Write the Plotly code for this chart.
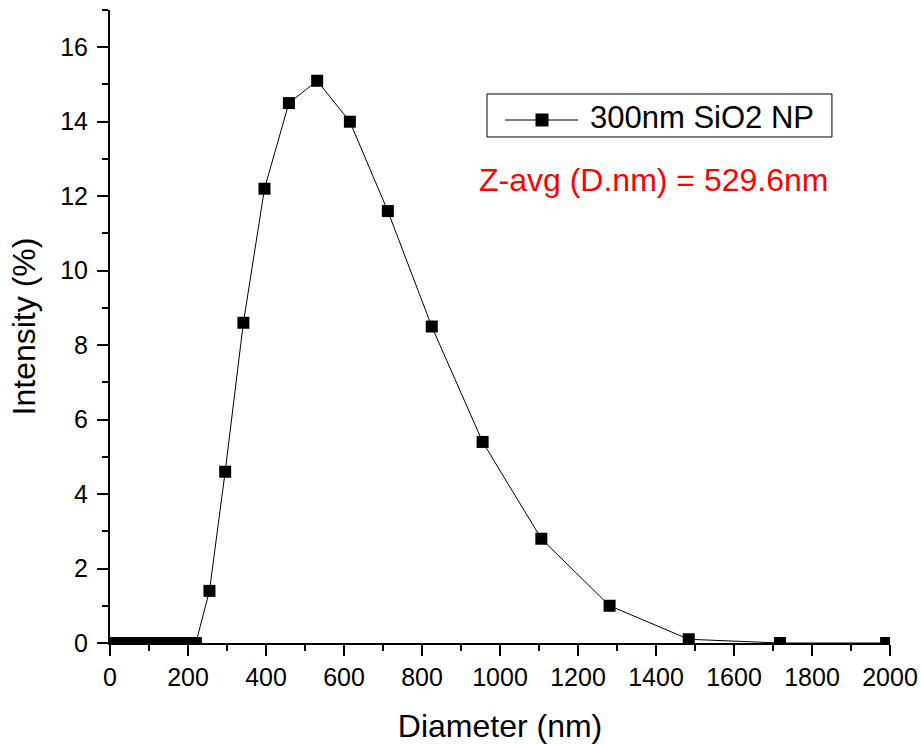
import plotly.graph_objects as go

diameter_nm = [0.4, 0.4632, 0.5365, 0.6213, 0.7195, 0.8332, 0.9649, 1.117, 1.294, 1.499,
               1.736, 2.010, 2.328, 2.696, 3.122, 3.615, 4.187, 4.849, 5.615, 6.503,
               7.531, 8.721, 10.10, 11.70, 13.54, 15.69, 18.17, 21.04, 24.36, 28.21,
               32.67, 37.84, 43.82, 50.75, 58.77, 68.06, 78.82, 91.28, 105.7, 122.4,
               141.8, 164.2, 190.1, 220.2, 255.0, 295.3, 342.0, 396.1, 458.7, 531.2,
               615.1, 712.4, 825.0, 955.4, 1106, 1281, 1484, 1718, 1990]
intensity_pct = [0.0] * 44 + [1.4, 4.6, 8.6, 12.2, 14.5, 15.1, 14.0, 11.6, 8.5, 5.4,
                              2.8, 1.0, 0.1, 0.0, 0.0]

series_name = "300nm SiO2 NP"
note_text = "Z-avg (D.nm) = 529.6nm"

font_family = "Liberation Sans, Arial, sans-serif"

fig = go.Figure()
fig.add_trace(go.Scatter(
    x=diameter_nm, y=intensity_pct, mode="lines+markers", name=series_name,
    line=dict(color="black", width=1),
    marker=dict(symbol="square", size=12, color="black"),
    showlegend=False,
))

# Custom legend box (Origin-style, long line sample)
fig.add_shape(type="rect", xref="paper", yref="paper",
              x0=0.4833, x1=0.9256, y0=0.7994, y1=0.8673,
              line=dict(color="black", width=1), fillcolor="white", layer="above")
fig.add_shape(type="line", xref="paper", yref="paper",
              x0=0.5064, x1=0.6000, y0=0.8262, y1=0.8262,
              line=dict(color="black", width=1), layer="above")
fig.add_shape(type="rect", xref="paper", yref="paper",
              x0=0.5455, x1=0.5622, y0=0.8160, y1=0.8365,
              line=dict(color="black", width=0), fillcolor="black", layer="above")
fig.add_annotation(
    x=0.6128, y=0.8300, xref="paper", yref="paper", xanchor="left", yanchor="middle",
    text=series_name, showarrow=False,
    font=dict(family=font_family, size=31, color="black"),
)

fig.add_annotation(
    x=0.9231, y=0.7314, xref="paper", yref="paper", xanchor="right", yanchor="middle",
    text=note_text, showarrow=False,
    font=dict(family=font_family, size=32, color="#ff0000"),
)

axis_common = dict(
    showline=True, linecolor="black", linewidth=2,
    ticks="outside", ticklen=11, tickwidth=2, tickcolor="black",
    showgrid=False, zeroline=False, mirror=False, automargin=False,
    tickfont=dict(family=font_family, size=25, color="black"),
)

fig.update_xaxes(
    range=[0, 2000], dtick=200, tick0=0,
    minor=dict(ticks="outside", ticklen=6, tickwidth=2, tickcolor="black", dtick=100, showgrid=False),
    title=dict(text="Diameter (nm)", font=dict(family=font_family, size=32, color="black"), standoff=26),
    **axis_common,
)
fig.update_yaxes(
    range=[0, 17], dtick=2, tick0=0,
    ticklabelstandoff=4,
    minor=dict(ticks="outside", ticklen=6, tickwidth=2, tickcolor="black", dtick=1, showgrid=False),
    title=dict(text="Intensity (%)", font=dict(family=font_family, size=32, color="black"), standoff=15),
    **axis_common,
)

fig.update_layout(
    width=921, height=744,
    margin=dict(l=110, r=31, t=10, b=101),
    paper_bgcolor="white", plot_bgcolor="white",
    showlegend=False,
)

fig.write_html("out.html")
